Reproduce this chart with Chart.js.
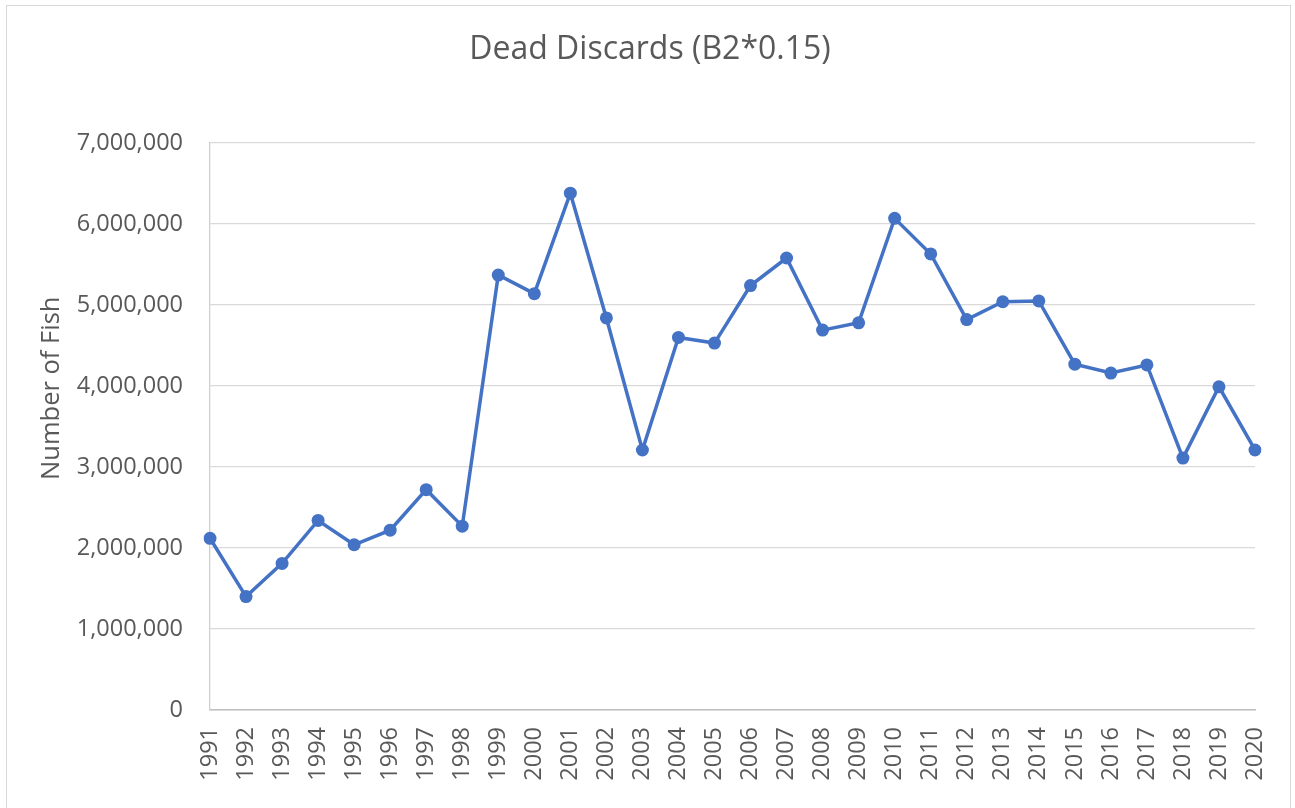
<!DOCTYPE html>
<html>
<head>
<meta charset="utf-8">
<script src="https://cdn.jsdelivr.net/npm/chart.js@4"></script>
<style>
  body { margin: 0; background: #fff; }
  #wrap { position: relative; width: 1295px; height: 808px; overflow: hidden; }
  #frame { position: absolute; left: 6px; top: 5px; width: 1283px; height: 820px; border: 1px solid #d9d9d9; }
  canvas { position: absolute; left: 0; top: 0; }
</style>
</head>
<body>
<div id="wrap">
  <div id="frame"></div>
  <canvas id="chart" width="1295" height="808"></canvas>
</div>
<script>
const years = ['1991','1992','1993','1994','1995','1996','1997','1998','1999','2000',
               '2001','2002','2003','2004','2005','2006','2007','2008','2009','2010',
               '2011','2012','2013','2014','2015','2016','2017','2018','2019','2020'];
const deadDiscards = [2120000, 1400000, 1810000, 2340000, 2040000, 2220000, 2720000, 2270000, 5370000, 5140000,
                      6380000, 4840000, 3210000, 4600000, 4530000, 5240000, 5580000, 4690000, 4780000, 6070000,
                      5630000, 4820000, 5040000, 5050000, 4270000, 4160000, 4260000, 3110000, 3990000, 3210000];

const fontFamily = '"Open Sans", "Noto Sans", sans-serif';
const textColor = '#595959';

const ctx = document.getElementById('chart').getContext('2d');
new Chart(ctx, {
    type: 'line',
    data: {
        labels: years,
        datasets: [{
            label: 'Dead Discards',
            data: deadDiscards,
            borderColor: '#4472C4',
            backgroundColor: '#4472C4',
            borderWidth: 3.5,
            pointRadius: 6.5,
            pointHoverRadius: 6.5,
            pointBorderWidth: 0,
            tension: 0,
            fill: false
        }]
    },
    options: {
        responsive: false,
        animation: false,
        // left/right padding keep the title centred where Excel put it
        layout: { padding: { left: 45, right: 40, top: 0, bottom: 0 } },
        plugins: {
            legend: { display: false },
            tooltip: { enabled: false },
            title: {
                display: true,
                text: 'Dead Discards (B2*0.15)',
                color: textColor,
                font: { family: fontFamily, size: 32, weight: 'normal' },
                padding: { top: 31, bottom: 73.6 }
            }
        },
        scales: {
            x: {
                offset: false,
                grid: { display: false, drawTicks: false },
                border: { display: true, color: '#bfbfbf', width: 1.5 },
                ticks: {
                    color: textColor,
                    font: { family: fontFamily, size: 23.5 },
                    minRotation: 90,
                    maxRotation: 90,
                    autoSkip: false,
                    padding: 17
                },
                afterFit: function(scale) {
                    scale.height = 98;
                    scale.paddingLeft = 0;
                    scale.paddingRight = 0;
                }
            },
            y: {
                min: 0,
                max: 7000000,
                grid: { color: '#d9d9d9', lineWidth: 1.3, drawTicks: false },
                border: { display: true, color: '#d0d0d0', width: 1.3 },
                ticks: {
                    stepSize: 1000000,
                    color: textColor,
                    font: { family: fontFamily, size: 23.5 },
                    padding: 27,
                    callback: function(v) { return v.toLocaleString('en-US'); }
                },
                title: {
                    display: true,
                    // leading en spaces nudge the text up, as in the original
                    text: '\u2002\u2002\u2002\u2002\u2002\u2002Number of Fish',
                    color: textColor,
                    font: { family: fontFamily, size: 25.5, weight: 'normal', lineHeight: 0.5 },
                    padding: { top: 0.5, bottom: 0 }
                },
                afterFit: function(scale) { scale.width = 165; }
            }
        }
    }
});
</script>
</body>
</html>
